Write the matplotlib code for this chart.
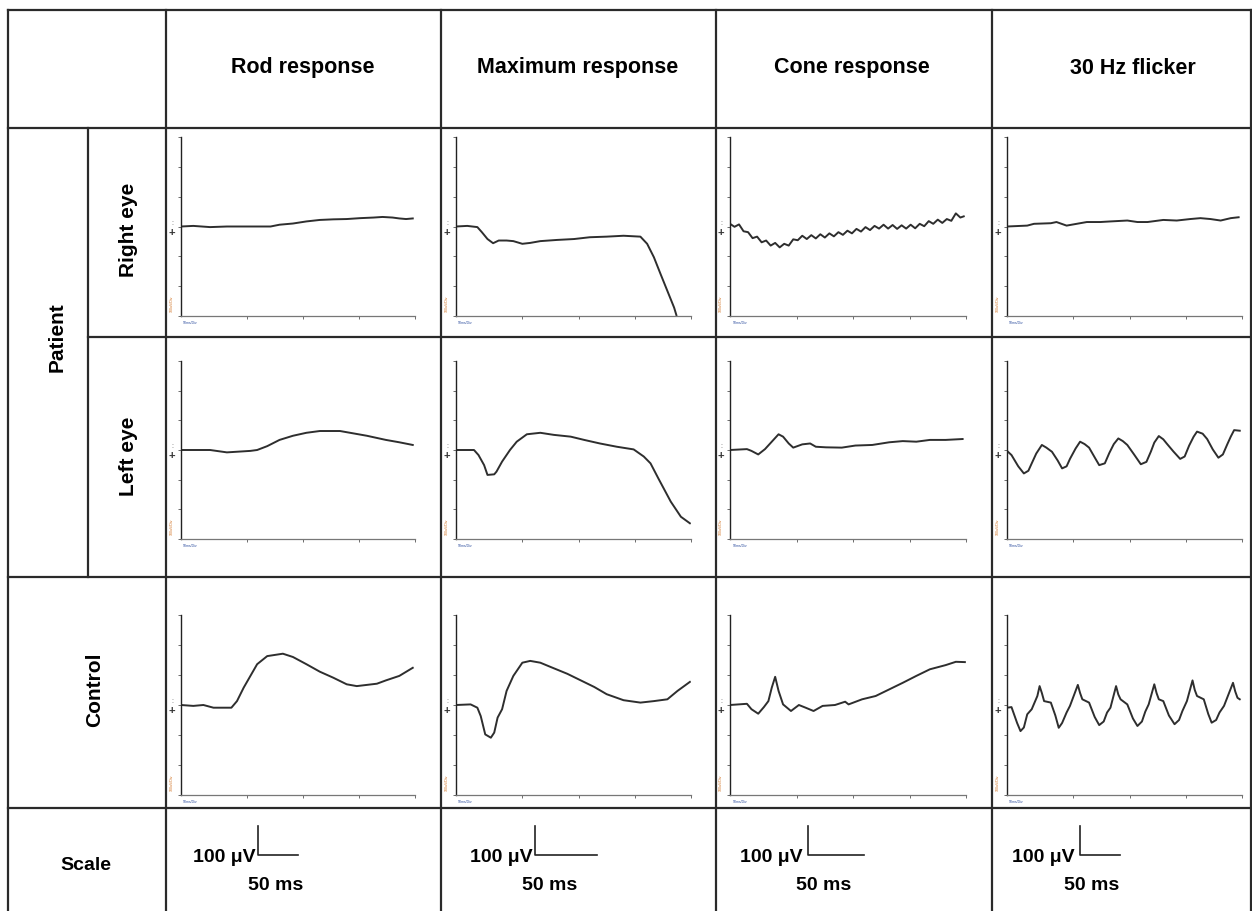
import matplotlib
matplotlib.use('Agg')
import matplotlib.pyplot as plt
from matplotlib.lines import Line2D

plt.rcParams['font.family'] = ['Liberation Sans', 'DejaVu Sans']

W, H = 1252, 911

columnas = ['Rod response', 'Maximum response', 'Cone response', '30 Hz flicker']
filas = ['Right eye', 'Left eye', 'Control']

# trazos: tiempo (ms) y amplitud (divisiones de la grafica, 0 = linea base)
rod_right_t = [-9, 2, 17, 32, 47, 71, 79, 91, 103, 115, 127, 139, 151, 163, 171, 180, 186, 192, 198]
rod_right_v = [0, 0.02, -0.02, 0.0, 0.0, 0.0, 0.06, 0.10, 0.17, 0.22, 0.24, 0.25, 0.28, 0.30, 0.32, 0.30, 0.27, 0.25, 0.27]

max_right_t = [-9, 1, 10, 14, 19, 24, 29, 36, 42, 50, 57, 66, 81, 96, 110, 125, 140, 155, 161, 167, 173, 179, 185, 187]
max_right_v = [0, 0.02, -0.02, -0.19, -0.42, -0.56, -0.47, -0.47, -0.49, -0.58, -0.55, -0.49, -0.45, -0.42, -0.36,
               -0.34, -0.31, -0.34, -0.58, -1.03, -1.6, -2.16, -2.72, -2.97]

cone_right_t = [-9, -5, -1, 3, 7, 11, 15, 19, 23, 27, 31, 35, 39, 43, 47, 51, 55, 59, 63, 67, 71, 75, 79, 83, 87,
                91, 95, 99, 103, 107, 111, 115, 119, 123, 127, 131, 135, 139, 143, 147, 151, 155, 159, 163, 167,
                171, 175, 179, 183, 187, 191, 195, 198]
cone_right_v = [0.09, -0.01, 0.07, -0.16, -0.19, -0.39, -0.34, -0.53, -0.47, -0.64, -0.55, -0.70, -0.58, -0.64,
                -0.43, -0.46, -0.31, -0.42, -0.29, -0.40, -0.26, -0.37, -0.23, -0.33, -0.19, -0.28, -0.14, -0.23,
                -0.08, -0.17, -0.02, -0.12, 0.02, -0.07, 0.06, -0.07, 0.05, -0.08, 0.04, -0.07, 0.06, -0.06, 0.09,
                0.01, 0.18, 0.09, 0.23, 0.12, 0.25, 0.19, 0.44, 0.30, 0.34]

flicker_right_t = [-9, 9, 15, 30, 35, 44, 53, 62, 74, 83, 98, 107, 116, 130, 142, 154, 163, 172, 181, 190, 197]
flicker_right_v = [0, 0.03, 0.09, 0.11, 0.15, 0.03, 0.09, 0.15, 0.15, 0.17, 0.2, 0.15, 0.15, 0.22, 0.2, 0.25,
                   0.28, 0.25, 0.2, 0.28, 0.31]

rod_left_t = [-9, 17, 32, 53, 59, 68, 79, 91, 103, 115, 133, 145, 157, 174, 186, 198]
rod_left_v = [0, 0, -0.08, -0.03, 0, 0.13, 0.34, 0.48, 0.58, 0.64, 0.64, 0.56, 0.48, 0.34, 0.26, 0.17]

max_left_t = [-9, 7, 11, 16, 19, 25, 27, 32, 39, 45, 54, 66, 78, 93, 105, 119, 134, 149, 158, 164, 171, 182, 191, 199]
max_left_v = [0, 0, -0.17, -0.51, -0.84, -0.82, -0.73, -0.39, 0, 0.28, 0.53, 0.58, 0.51, 0.45, 0.34, 0.22, 0.11,
              0.02, -0.22, -0.45, -0.96, -1.74, -2.25, -2.47]

cone_left_t = [-9, 6, 10, 16, 22, 28, 34, 38, 43, 47, 55, 62, 67, 76, 90, 102, 117, 132, 144, 156, 168, 182, 197]
cone_left_v = [0, 0.03, -0.03, -0.15, 0.03, 0.28, 0.53, 0.45, 0.22, 0.08, 0.19, 0.22, 0.11, 0.09, 0.08, 0.15,
               0.17, 0.26, 0.30, 0.28, 0.34, 0.34, 0.37]

flicker_left_t = [-9, -5, 1, 6, 10, 13, 17, 22, 26, 31, 36, 40, 44, 47, 52, 56, 60, 64, 69, 73, 78, 82, 86, 90,
                  94, 98, 104, 110, 115, 119, 122, 126, 130, 133, 139, 145, 149, 153, 157, 160, 165, 169, 174,
                  179, 183, 187, 190, 193, 198]
flicker_left_v = [-0.03, -0.17, -0.55, -0.79, -0.70, -0.45, -0.12, 0.17, 0.08, -0.06, -0.35, -0.62, -0.55, -0.30,
                  0.05, 0.28, 0.20, 0.08, -0.25, -0.51, -0.45, -0.1, 0.20, 0.39, 0.30, 0.17, -0.15, -0.48, -0.40,
                  -0.05, 0.25, 0.47, 0.36, 0.22, -0.05, -0.30, -0.22, 0.15, 0.45, 0.62, 0.55, 0.37, 0.02, -0.26,
                  -0.15, 0.2, 0.45, 0.67, 0.65]

rod_ctrl_t = [-9, 2, 11, 20, 29, 36, 41, 47, 53, 59, 68, 82, 91, 103, 115, 127, 139, 148, 157, 166, 174, 186, 198]
rod_ctrl_v = [0, -0.03, 0, -0.09, -0.09, -0.09, 0.13, 0.58, 0.97, 1.36, 1.63, 1.71, 1.6, 1.36, 1.11, 0.91, 0.69,
              0.63, 0.67, 0.71, 0.82, 0.97, 1.24]

max_ctrl_t = [-9, 4, 10, 13, 17, 22, 25, 28, 32, 36, 42, 50, 57, 66, 75, 90, 102, 114, 125, 140, 155, 167, 179, 188, 199]
max_ctrl_v = [0, 0.02, -0.09, -0.37, -0.98, -1.09, -0.92, -0.42, -0.14, 0.47, 0.97, 1.41, 1.47, 1.41, 1.27, 1.04,
              0.82, 0.6, 0.36, 0.16, 0.08, 0.13, 0.19, 0.47, 0.77]

cone_ctrl_t = [-9, 6, 10, 16, 21, 25, 28, 31, 34, 38, 45, 52, 58, 65, 73, 84, 93, 96, 108, 120, 132, 144, 156,
               168, 182, 191, 199]
cone_ctrl_v = [0, 0.04, -0.14, -0.29, -0.07, 0.13, 0.58, 0.94, 0.47, 0.02, -0.2, 0, -0.09, -0.2, -0.03, 0, 0.11,
               0.02, 0.19, 0.3, 0.52, 0.74, 0.97, 1.19, 1.33, 1.44, 1.43]

flicker_ctrl_t = [-9, -5, 0, 3, 6, 9, 13, 18, 20, 22, 24, 30, 34, 37, 40, 44, 47, 54, 56, 58, 64, 69, 73, 77, 80,
                  83, 88, 90, 92, 98, 103, 107, 111, 114, 117, 122, 124, 126, 130, 135, 140, 144, 147, 151, 156,
                  158, 160, 166, 170, 173, 177, 180, 184, 192, 194, 196, 198]
flicker_ctrl_v = [-0.09, -0.07, -0.60, -0.87, -0.75, -0.31, -0.14, 0.3, 0.63, 0.40, 0.13, 0.08, -0.35, -0.76,
                  -0.60, -0.25, -0.03, 0.67, 0.40, 0.19, 0.08, -0.40, -0.67, -0.55, -0.25, -0.09, 0.63, 0.35,
                  0.19, 0.02, -0.45, -0.70, -0.55, -0.22, 0.02, 0.69, 0.40, 0.19, 0.13, -0.35, -0.64, -0.50,
                  -0.20, 0.13, 0.82, 0.50, 0.3, 0.19, -0.30, -0.59, -0.50, -0.25, -0.03, 0.74, 0.45, 0.24, 0.19]

trazos = [
    [(rod_right_t, rod_right_v), (max_right_t, max_right_v), (cone_right_t, cone_right_v), (flicker_right_t, flicker_right_v)],
    [(rod_left_t, rod_left_v), (max_left_t, max_left_v), (cone_left_t, cone_left_v), (flicker_left_t, flicker_left_v)],
    [(rod_ctrl_t, rod_ctrl_v), (max_ctrl_t, max_ctrl_v), (cone_ctrl_t, cone_ctrl_v), (flicker_ctrl_t, flicker_ctrl_v)],
]

escala_uv = 100
escala_ms = 50

fig = plt.figure(figsize=(W / 100, H / 100), dpi=100)
fig.patch.set_facecolor('white')


def px_ax(x0, y0, x1, y1):
    return fig.add_axes([x0 / W, 1 - y1 / H, (x1 - x0) / W, (y1 - y0) / H])


def linea(x0, y0, x1, y1):
    fig.add_artist(Line2D([x0 / W, x1 / W], [1 - y0 / H, 1 - y1 / H], color='#2a2a2a', lw=1.6))


def texto(x, y, s, size=15, **kw):
    fig.text(x / W, 1 - y / H, s, fontsize=size, fontweight='bold', **kw)


# lineas de la tabla
for y in [10, 128, 577, 808]:
    linea(8, y, 1251, y)
linea(88, 337, 1251, 337)
for x in [8, 166, 441, 716, 992, 1251]:
    linea(x, 10, x, 911)
linea(88, 128, 88, 577)

# encabezados
cx = [303, 578, 852, 1133]
for c, nombre in zip(cx, columnas):
    texto(c, 68, nombre, size=15.5, ha='center', va='center')
texto(57, 337, 'Patient', ha='center', va='center', rotation=90)
texto(128, 230, filas[0], ha='center', va='center', rotation=90)
texto(128, 456, filas[1], ha='center', va='center', rotation=90)
texto(95, 690, filas[2], ha='center', va='center', rotation=90)
texto(86, 866, 'Scale', size=14, ha='center', va='center')

# graficas
xs = [(181, 415), (456, 691), (730, 966), (1007, 1242)]
ys = [(137, 316), (361, 539), (615, 795)]
for i, (y0, y1) in enumerate(ys):
    for j, (x0, x1) in enumerate(xs):
        ax = px_ax(x0, y0, x1, y1)
        t, v = trazos[i][j]
        ax.plot(t, v, color='#2e2e2e', lw=1.4)
        ax.set_xlim(-9, 200)
        ax.set_ylim(-3, 3)
        ax.set_xticks([50, 100, 150, 200])
        ax.set_yticks([-3, -2, -1, 0, 1, 2, 3])
        ax.tick_params(length=2, width=0.6, colors='#555555', labelleft=False, labelbottom=False)
        for s in ['top', 'right']:
            ax.spines[s].set_visible(False)
        ax.spines['left'].set_color('#222222')
        ax.spines['left'].set_linewidth(1.0)
        ax.spines['bottom'].set_color('#777777')
        ax.spines['bottom'].set_linewidth(0.9)
        ax.patch.set_alpha(0)
        ax.annotate('+', xy=(0, 0), xycoords=('axes fraction', 'data'), xytext=(-6.5, -4.5),
                    textcoords='offset points', fontsize=8, fontweight='bold', ha='center', va='center',
                    color='#333333')
        ax.annotate(':', xy=(0, 0), xycoords=('axes fraction', 'data'), xytext=(-6.5, 2.5),
                    textcoords='offset points', fontsize=5, ha='center', va='center', color='#555555')
        ax.text(-0.04, 0.02, '100uV/Div', transform=ax.transAxes, fontsize=2.5, rotation=90,
                color='#d07020', ha='center', va='bottom')
        ax.text(0.01, -0.03, '50ms/Div', transform=ax.transAxes, fontsize=2.5,
                color='#3050a0', ha='left', va='top')

# fila de escala
escalas = [(193, 258, 40, 276), (470, 535, 62, 550), (740, 808, 56, 824), (1012, 1080, 40, 1092)]
for xt, xb, ancho, xm in escalas:
    texto(xt, 858, '100 \u03bcV', size=14, ha='left', va='center')
    texto(xm, 886, '50 ms', size=14, ha='center', va='center')
    ax = px_ax(xb, 826, xb + ancho, 855)
    ax.plot([0, 0, escala_ms], [escala_uv, 0, 0], color='#222222', lw=1.2, clip_on=False)
    ax.set_xlim(0, escala_ms)
    ax.set_ylim(0, escala_uv)
    ax.axis('off')

fig.savefig('out.png', dpi=100)
